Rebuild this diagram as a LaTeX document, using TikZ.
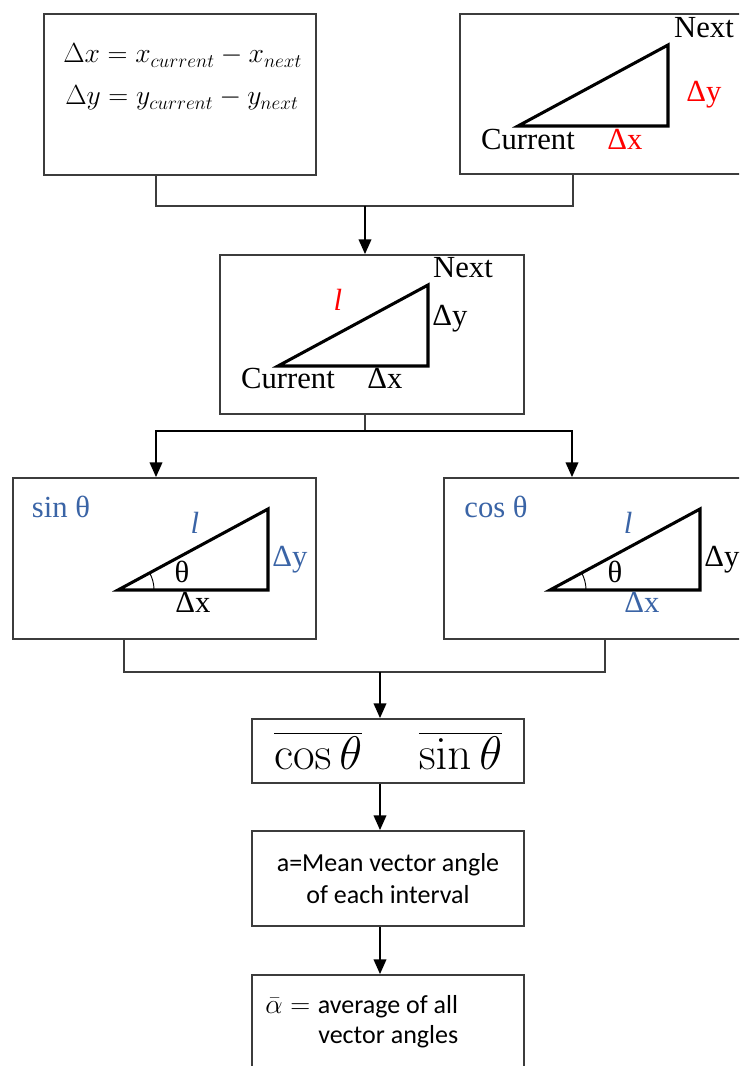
\documentclass[tikz,border=0pt]{standalone}
\usepackage{graphicx}
\usepackage[no-math]{fontspec}
\setmainfont{Liberation Serif}
\newfontfamily\calib{Carlito}
\usetikzlibrary{arrows.meta,calc}
\definecolor{fluxgris}{HTML}{3C3C3C}
\definecolor{fluxrouge}{HTML}{FF0000}
\definecolor{fluxbleu}{HTML}{3A64A6}

\begin{document}
\begin{tikzpicture}[
    x=0.75pt,y=-0.75pt,
    boite/.style  = {rectangle,draw=fluxgris,line width=1.4pt,fill=white,inner sep=0pt},
    trigo/.style  = {black,line width=2.3pt},
    angle/.style  = {black,line width=0.7pt},
    lab/.style    = {font=\fontsize{23}{27}\selectfont,anchor=base,inner sep=0pt},
    formule/.style= {font=\fontsize{19.5}{24}\selectfont,anchor=base west,inner sep=0pt},
    bus/.style    = {fluxgris,line width=1.4pt},
    fleche/.style = {black,line width=1.1pt,-{Triangle[length=11pt,width=9.5pt]}},
  ]
  \clip (0,0) rectangle (739,1066);

  % ── Boites ────────────────────────────────────────────────────────────────
  \node[boite,minimum width=204pt,minimum height=120.75pt] (delta) at (180,94.5) {};
  \node[boite,minimum width=228pt,minimum height=120pt]    (pts)   at (612,94) {};
  \node[boite,minimum width=228pt,minimum height=119.25pt] (hyp)   at (372,334.5) {};
  \node[boite,minimum width=227.25pt,minimum height=120.75pt] (sinb) at (164.5,558.5) {};
  \node[boite,minimum width=228pt,minimum height=120.75pt] (cosb)  at (596,558.5) {};
  \node[boite,minimum width=204pt,minimum height=48pt,font=\fontsize{20}{24}\selectfont]
       (moy) at (388,751) {\scalebox{1.7}{$\overline{\cos\theta}\hspace{25pt}\overline{\sin\theta}$}};
  \node[boite,minimum width=204pt,minimum height=71.25pt,align=center,
        font=\calib\fontsize{19.5}{24}\selectfont]
       (ang) at (388,878.5) {a=Mean vector angle\\of each interval};
  \node[boite,minimum width=204pt,minimum height=75pt] (avg) at (388,1025) {};

  % ── Differences ───────────────────────────────────────────────────────────
  \node[formule] (fdx) at (63,63)  {$\Delta x = x_{current} - x_{next}$};
  \node[formule] (fdy) at (65,105) {$\Delta y = y_{current} - y_{next}$};

  % ── Triangle des points ───────────────────────────────────────────────────
  \draw[trigo] (518,126) -- (668,126) -- (668,45) -- cycle;
  \node[lab] (n1)  at (704,38)  {Next};
  \node[lab] (c1)  at (528,150) {Current};
  \node[lab,text=fluxrouge] (dx1) at (625,150) {Δx};
  \node[lab,text=fluxrouge] (dy1) at (704,102) {Δy};

  \draw[trigo] (278,366) -- (428,366) -- (428,285) -- cycle;
  \node[lab] (n2)  at (463,277) {Next};
  \node[lab] (c2)  at (288,388) {Current};
  \node[lab] (dx2) at (385,388) {Δx};
  \node[lab] (dy2) at (450,325) {Δy};
  \node[lab,text=fluxrouge,font=\fontsize{23}{27}\selectfont\itshape] (l2) at (338,310) {l};

  % ── Sinus et cosinus ──────────────────────────────────────────────────────
  \draw[trigo] (118,590) -- (268,590) -- (268,509) -- cycle;
  \draw[angle] (154,590) arc (0:-28.4:36);
  \node[lab,text=fluxbleu] (s)   at (61,517)  {sin θ};
  \node[lab,text=fluxbleu,font=\fontsize{23}{27}\selectfont\itshape] (l3) at (195,533) {l};
  \node[lab] (t3)  at (182,582) {θ};
  \node[lab,text=fluxbleu] (dy3) at (290,566) {Δy};
  \node[lab] (dx3) at (193,612) {Δx};

  \draw[trigo] (550,590) -- (700,590) -- (700,509) -- cycle;
  \draw[angle] (586,590) arc (0:-28.4:36);
  \node[lab,text=fluxbleu] (c)   at (496,517) {cos θ};
  \node[lab,text=fluxbleu,font=\fontsize{23}{27}\selectfont\itshape] (l4) at (628,533) {l};
  \node[lab] (t4)  at (615,582) {θ};
  \node[lab] (dy4) at (722,566) {Δy};
  \node[lab,text=fluxbleu] (dx4) at (642,612) {Δx};

  % ── Moyenne ───────────────────────────────────────────────────────────────
  \node[anchor=base west,inner sep=0pt,align=left,font=\calib\fontsize{19.5}{22.5}\selectfont]
       (avgtxt) at (265,1043) {$\bar{\alpha}={}$average of all\\\hspace*{39.75pt}vector angles};

  % ── Liaisons ──────────────────────────────────────────────────────────────
  \coordinate (j1) at (365,206);
  \coordinate (j2) at (365,431);
  \coordinate (j3) at (380,672);

  \draw[bus] (156,0 |- delta.south) |- (j1) -| (573,0 |- pts.south);
  \draw[fleche] (j1) -- (j1 |- hyp.north);

  \draw[bus] (j2 |- hyp.south) -- (j2);
  \draw[fleche] (j2) -| (156,0 |- sinb.north);
  \draw[fleche] (j2) -| (572,0 |- cosb.north);

  \draw[bus] (124,0 |- sinb.south) |- (j3) -| (605,0 |- cosb.south);
  \draw[fleche] (j3) -- (j3 |- moy.north);
  \draw[fleche] (j3 |- moy.south) -- (j3 |- ang.north);
  \draw[fleche] (j3 |- ang.south) -- (j3 |- avg.north);

\end{tikzpicture}
\end{document}
